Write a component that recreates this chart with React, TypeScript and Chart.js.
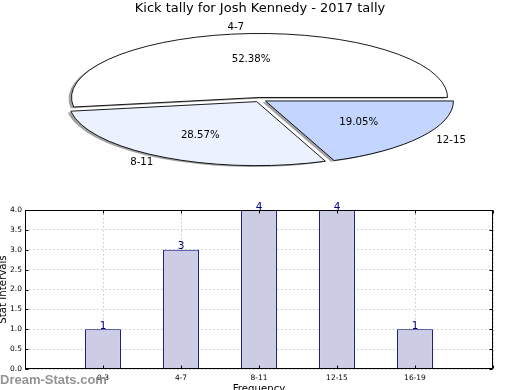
import React, { useEffect, useRef } from 'react';
import { Chart, registerables } from 'chart.js';

Chart.register(...registerables);

// ---- data ----
const pieTitle = 'Kick tally for Josh Kennedy - 2017 tally';
const pieLabels = ['4-7', '8-11', '12-15'];
const pieValues = [11, 6, 4];
const pieColors = ['#ffffff', '#ebf1ff', '#c4d6ff'];

const barCategories = ['0-3', '4-7', '8-11', '12-15', '16-19'];
const barPositions = [1, 2, 3, 4, 5];
const barValues = [1, 3, 4, 4, 1];
const xAxisTitle = 'Frequency';
const yAxisTitle = 'Stat Intervals';
const watermarkText = 'Dream-Stats.com';

const FONT = '"DejaVu Sans", sans-serif';

const ellipsePie = {
  id: 'ellipsePie',
  beforeDatasetsDraw(chart: any) {
    const ctx = chart.ctx as CanvasRenderingContext2D;
    const meta = chart.getDatasetMeta(0);
    const area = chart.chartArea;
    const rx = (area.right - area.left) / 2;
    const ry = (area.bottom - area.top) / 2;
    const explode = 0.035;
    const ds = chart.data.datasets[0];
    const geo = meta.data.map((el: any) => {
      const p = el.getProps(['x', 'y', 'startAngle', 'endAngle'], true);
      const mid = (p.startAngle + p.endAngle) / 2;
      return {
        ...p,
        mid,
        cx: p.x + Math.cos(mid) * explode * rx,
        cy: p.y + Math.sin(mid) * explode * ry,
      };
    });
    const path = (g: any, ox: number, oy: number) => {
      ctx.beginPath();
      ctx.moveTo(g.cx + ox, g.cy + oy);
      ctx.ellipse(g.cx + ox, g.cy + oy, rx, ry, 0, g.startAngle, g.endAngle);
      ctx.closePath();
    };
    ctx.save();
    geo.forEach((g: any) => {
      path(g, -0.016 * rx, 0.02 * ry);
      ctx.fillStyle = 'rgba(70,70,70,0.5)';
      ctx.fill();
    });
    geo.forEach((g: any, i: number) => {
      path(g, 0, 0);
      ctx.fillStyle = ds.backgroundColor[i];
      ctx.fill();
      ctx.lineWidth = 0.9;
      ctx.strokeStyle = '#000';
      ctx.stroke();
    });
    const total = ds.data.reduce((a: number, b: number) => a + b, 0);
    ctx.font = `10.2px ${FONT}`;
    ctx.fillStyle = '#000';
    ctx.textBaseline = 'middle';
    geo.forEach((g: any, i: number) => {
      const c = Math.cos(g.mid);
      const s = Math.sin(g.mid);
      ctx.textAlign = c > 0 ? 'left' : 'right';
      ctx.fillText(chart.data.labels[i], g.cx + 1.1 * rx * c, g.cy + 1.1 * ry * s);
      ctx.textAlign = 'center';
      ctx.fillText(((ds.data[i] / total) * 100).toFixed(2) + '%', g.cx + 0.6 * rx * c, g.cy + 0.6 * ry * s);
    });
    ctx.restore();
    return false;
  },
};

const barExtras = {
  id: 'barExtras',
  afterDatasetsDraw(chart: any) {
    const ctx = chart.ctx as CanvasRenderingContext2D;
    const meta = chart.getDatasetMeta(0);
    const ds = chart.data.datasets[0];
    ctx.save();
    ctx.font = `10.5px ${FONT}`;
    ctx.fillStyle = '#000080';
    ctx.textAlign = 'center';
    ctx.textBaseline = 'alphabetic';
    meta.data.forEach((el: any, i: number) => {
      const p = el.getProps(['x', 'y'], true);
      ctx.fillText(String(ds.data[i].y), p.x, p.y - 0.5);
    });
    ctx.restore();
  },
  afterDraw(chart: any) {
    const ctx = chart.ctx as CanvasRenderingContext2D;
    const a = chart.chartArea;
    const xs = chart.scales.x;
    const ys = chart.scales.y;
    ctx.save();
    ctx.strokeStyle = '#000';
    ctx.lineWidth = 1;
    const L = Math.round(a.left) + 0.5;
    const R = Math.round(a.right) - 0.5;
    const T = Math.round(a.top) + 0.5;
    const B = Math.round(a.bottom) - 0.5;
    ctx.strokeRect(L, T, R - L, B - T);
    ctx.beginPath();
    ys.ticks.forEach((t: any) => {
      const y = Math.round(ys.getPixelForValue(t.value)) + 0.5;
      ctx.moveTo(L, y); ctx.lineTo(L + 3, y);
      ctx.moveTo(R, y); ctx.lineTo(R - 3, y);
    });
    xs.ticks.forEach((t: any) => {
      const x = Math.round(xs.getPixelForValue(t.value)) + 0.5;
      ctx.moveTo(x, B); ctx.lineTo(x, B - 3);
      ctx.moveTo(x, T); ctx.lineTo(x, T + 3);
    });
    ctx.stroke();
    ctx.font = 'bold 13px "Liberation Sans", Arial, sans-serif';
    ctx.fillStyle = 'rgba(120,120,120,0.8)';
    ctx.textAlign = 'left';
    ctx.textBaseline = 'alphabetic';
    ctx.fillText(watermarkText, 0, 384);
    ctx.restore();
  },
};

export default function App() {
  const pieRef = useRef<HTMLCanvasElement>(null);
  const barRef = useRef<HTMLCanvasElement>(null);

  useEffect(() => {
    const order = [2, 1, 0];
    const pie = new Chart(pieRef.current!, {
      type: 'pie',
      data: {
        labels: order.map((i) => pieLabels[i]),
        datasets: [
          {
            data: order.map((i) => pieValues[i]),
            backgroundColor: order.map((i) => pieColors[i]),
            borderWidth: 0,
            hoverOffset: 0,
          },
        ],
      },
      options: {
        animation: false,
        responsive: false,
        events: [],
        rotation: 90,
        layout: { padding: { left: 72, right: 72, top: 0, bottom: 226.3 } },
        plugins: {
          legend: { display: false },
          tooltip: { enabled: false },
          title: {
            display: true,
            text: pieTitle,
            color: '#000',
            font: { family: FONT, size: 13, weight: 'normal', lineHeight: 1.2 },
            padding: { top: 1, bottom: 19.1 },
          },
        },
      } as any,
      plugins: [ellipsePie],
    });

    const gridCommon = { color: '#c6c6c6', lineWidth: 1, drawTicks: false, offset: false };
    const bar = new Chart(barRef.current!, {
      type: 'bar',
      data: {
        datasets: [
          {
            data: barPositions.map((x, i) => ({ x, y: barValues[i] })),
            backgroundColor: '#ccccE5',
            borderColor: '#000080',
            borderWidth: 1,
            categoryPercentage: 1,
            barPercentage: 0.46,
          },
        ],
      },
      options: {
        animation: false,
        responsive: false,
        events: [],
        layout: { padding: { left: 0, top: 210, right: 27, bottom: 0 } },
        plugins: { legend: { display: false }, tooltip: { enabled: false } },
        scales: {
          x: {
            type: 'linear',
            min: 0,
            max: 6,
            offset: false,
            z: 1,
            afterFit: (s: any) => { s.height = 21; },
            ticks: {
              stepSize: 1,
              autoSkip: false,
              maxRotation: 0,
              padding: 4.5,
              color: '#000',
              font: { family: FONT, size: 7.5 },
              callback: (v: any) => {
                const k = barPositions.indexOf(Number(v));
                return k >= 0 ? barCategories[k] : '';
              },
            },
            grid: gridCommon,
            border: { display: false, dash: [1.5, 2.5] },
            title: {
              display: true,
              text: xAxisTitle,
              color: '#000',
              font: { family: FONT, size: 10.2, lineHeight: 1.2 },
              padding: { top: 0, bottom: -5.5 },
            },
          },
          y: {
            type: 'linear',
            min: 0,
            max: 4,
            z: 1,
            afterFit: (s: any) => { s.width = 25; },
            ticks: {
              stepSize: 0.5,
              padding: 3,
              color: '#000',
              font: { family: FONT, size: 7.5 },
              callback: (v: any) => Number(v).toFixed(1),
            },
            grid: gridCommon,
            border: { display: false, dash: [1.5, 2.5] },
            title: {
              display: true,
              text: yAxisTitle,
              color: '#000',
              font: { family: FONT, size: 10.2, lineHeight: 1.2 },
              padding: { top: -2.5, bottom: 0 },
            },
          },
        },
      } as any,
      plugins: [barExtras],
    });

    return () => {
      pie.destroy();
      bar.destroy();
    };
  }, []);

  return (
    <div style={{ position: 'absolute', left: 0, top: 0, width: 520, height: 390, background: '#fff', overflow: 'hidden' }}>
      <canvas ref={pieRef} width={520} height={390} style={{ position: 'absolute', left: 0, top: 0 }} />
      <canvas ref={barRef} width={520} height={390} style={{ position: 'absolute', left: 0, top: 0 }} />
    </div>
  );
}
